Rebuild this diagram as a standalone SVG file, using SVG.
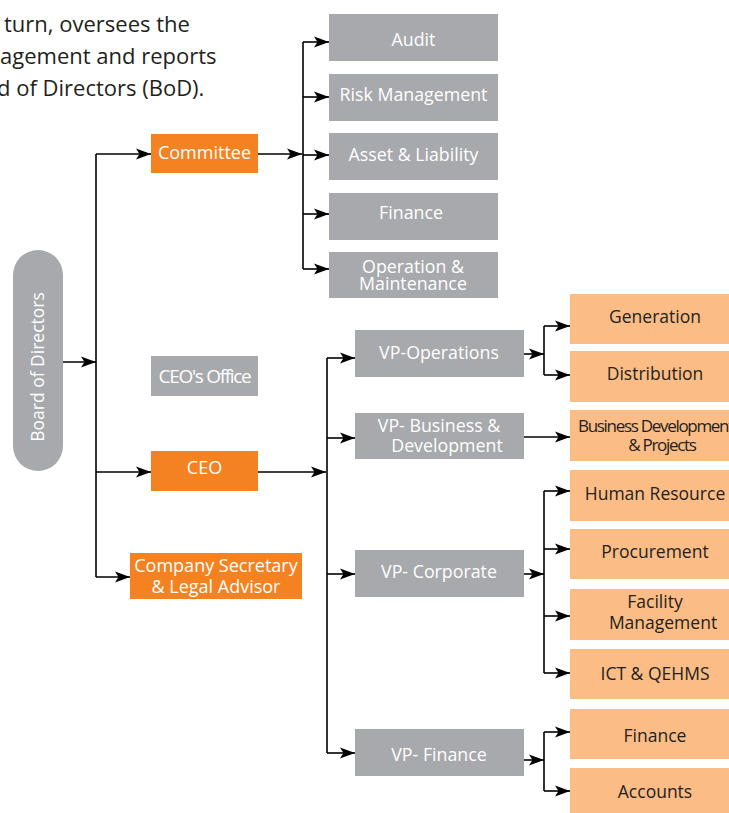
<svg xmlns="http://www.w3.org/2000/svg" width="729" height="813" viewBox="0 0 729 813">
<style>
.t{font-family:"Open Sans","Noto Sans","Liberation Sans",sans-serif;}
.intro{font-size:22px;fill:#231f20;}
.w{fill:#ffffff;font-size:17.8px;text-anchor:middle;}
.d{fill:#231f20;font-size:17.5px;text-anchor:middle;}
.g{fill:#a7a9ac;}
.o{fill:#f58220;}
.lo{fill:#fbbc85;}
.c{fill:none;stroke:#000;stroke-width:1.6;}
</style>
<defs>
<marker id="ah" markerUnits="userSpaceOnUse" markerWidth="16" markerHeight="12" viewBox="0 -6 16 12" refX="15" refY="0" orient="auto">
<path d="M0,-5.5 L15,0 L0,5.5 L3.5,0 z" fill="#000"/>
</marker>
</defs>
<g id="intro" class="t intro">
<text x="4" y="32">turn, oversees the</text>
<text x="0" y="64">agement and reports</text>
<text x="-3" y="96">d of Directors (BoD).</text>
</g>
<g id="connectors" class="c">
<path d="M63,362 H96" marker-end="url(#ah)"/>
<path d="M96,154 V577"/>
<path d="M96,154 H151" marker-end="url(#ah)"/>
<path d="M96,472 H151" marker-end="url(#ah)"/>
<path d="M96,577 H130" marker-end="url(#ah)"/>
<path d="M258,154 H302" marker-end="url(#ah)"/>
<path d="M303,42 V269"/>
<path d="M303,42 H329" marker-end="url(#ah)"/>
<path d="M303,97 H329" marker-end="url(#ah)"/>
<path d="M303,155 H329" marker-end="url(#ah)"/>
<path d="M303,214 H329" marker-end="url(#ah)"/>
<path d="M303,269 H329" marker-end="url(#ah)"/>
<path d="M258,472 H326" marker-end="url(#ah)"/>
<path d="M327,358 V753"/>
<path d="M327,358 H355" marker-end="url(#ah)"/>
<path d="M327,438 H355" marker-end="url(#ah)"/>
<path d="M327,574 H355" marker-end="url(#ah)"/>
<path d="M327,753 H355" marker-end="url(#ah)"/>
<path d="M524,354 H544" marker-end="url(#ah)"/>
<path d="M544,326 V375"/>
<path d="M544,326 H570" marker-end="url(#ah)"/>
<path d="M544,375 H570" marker-end="url(#ah)"/>
<path d="M524,437 H570" marker-end="url(#ah)"/>
<path d="M524,574 H544" marker-end="url(#ah)"/>
<path d="M544,491 V673"/>
<path d="M544,491 H570" marker-end="url(#ah)"/>
<path d="M544,549 H570" marker-end="url(#ah)"/>
<path d="M544,616 H570" marker-end="url(#ah)"/>
<path d="M544,673 H570" marker-end="url(#ah)"/>
<path d="M524,760 H544" marker-end="url(#ah)"/>
<path d="M544,732 V791"/>
<path d="M544,732 H570" marker-end="url(#ah)"/>
<path d="M544,791 H570" marker-end="url(#ah)"/>
</g>
<g id="board" class="t">
<rect class="g" x="13" y="250" width="50" height="221" rx="25" ry="25"/>
<text class="w" transform="translate(44,367) rotate(-90)" style="font-size:17.5px">Board of Directors</text>
</g>
<g id="committee" class="t">
<rect class="o" x="151" y="134" width="107" height="39"/>
<text class="w" x="204.5" y="159" style="font-size:18px">Committee</text>
</g>
<g id="ceo-office" class="t">
<rect class="g" x="151" y="356" width="107" height="40"/>
<text class="w" x="204.5" y="383" style="letter-spacing:-1.3px;font-size:19px">CEO's Office</text>
</g>
<g id="ceo" class="t">
<rect class="o" x="151" y="451" width="107" height="40"/>
<text class="w" x="204.5" y="474" style="font-size:18px">CEO</text>
</g>
<g id="company-secretary" class="t">
<rect class="o" x="130" y="553" width="172" height="46"/>
<text class="w" style="font-size:18px"><tspan x="216" y="572">Company Secretary</tspan><tspan x="216" y="593">&amp; Legal Advisor</tspan></text>
</g>
<g id="audit" class="t">
<rect class="g" x="329" y="14" width="169" height="47"/>
<text class="w" x="413.5" y="46">Audit</text>
</g>
<g id="risk" class="t">
<rect class="g" x="329" y="74" width="169" height="47"/>
<text class="w" x="413.5" y="101">Risk Management</text>
</g>
<g id="asset" class="t">
<rect class="g" x="329" y="133" width="169" height="47"/>
<text class="w" x="413.5" y="161">Asset &amp; Liability</text>
</g>
<g id="finance-c" class="t">
<rect class="g" x="329" y="193" width="169" height="47"/>
<text class="w" x="411" y="219">Finance</text>
</g>
<g id="om" class="t">
<rect class="g" x="329" y="252" width="169" height="46"/>
<text class="w"><tspan x="413" y="273">Operation &amp;</tspan><tspan x="413" y="290">Maintenance</tspan></text>
</g>
<g id="vp-ops" class="t">
<rect class="g" x="355" y="330" width="169" height="47"/>
<text class="w" x="439" y="359">VP-Operations</text>
</g>
<g id="vp-bd" class="t">
<rect class="g" x="355" y="413" width="169" height="46"/>
<text class="w"><tspan x="439" y="432">VP- Business &amp;</tspan><tspan x="447" y="452">Development</tspan></text>
</g>
<g id="vp-corp" class="t">
<rect class="g" x="355" y="550" width="169" height="47"/>
<text class="w" x="439" y="578">VP- Corporate</text>
</g>
<g id="vp-fin" class="t">
<rect class="g" x="355" y="729" width="169" height="47"/>
<text class="w" x="439" y="761">VP- Finance</text>
</g>
<g id="generation" class="t">
<rect class="lo" x="570" y="294" width="159" height="50"/>
<text class="d" x="655" y="323">Generation</text>
</g>
<g id="distribution" class="t">
<rect class="lo" x="570" y="351" width="159" height="51"/>
<text class="d" x="655" y="380">Distribution</text>
</g>
<g id="bdp" class="t">
<rect class="lo" x="570" y="410" width="159" height="51"/>
<text class="d" style="letter-spacing:-1.3px;font-size:17px"><tspan x="578" y="432" style="text-anchor:start">Business Development</tspan><tspan x="662" y="451">&amp; Projects</tspan></text>
</g>
<g id="hr" class="t">
<rect class="lo" x="570" y="470" width="159" height="51"/>
<text class="d" x="655" y="500">Human Resource</text>
</g>
<g id="procurement" class="t">
<rect class="lo" x="570" y="529" width="159" height="50"/>
<text class="d" x="655" y="558">Procurement</text>
</g>
<g id="facility" class="t">
<rect class="lo" x="570" y="589" width="159" height="51"/>
<text class="d"><tspan x="655" y="608">Facility</tspan><tspan x="663" y="629">Management</tspan></text>
</g>
<g id="ict" class="t">
<rect class="lo" x="570" y="649" width="159" height="50"/>
<text class="d" x="655" y="680">ICT &amp; QEHMS</text>
</g>
<g id="finance-d" class="t">
<rect class="lo" x="570" y="709" width="159" height="50"/>
<text class="d" x="655" y="742">Finance</text>
</g>
<g id="accounts" class="t">
<rect class="lo" x="570" y="768" width="159" height="45"/>
<text class="d" x="655" y="798">Accounts</text>
</g>
</svg>
